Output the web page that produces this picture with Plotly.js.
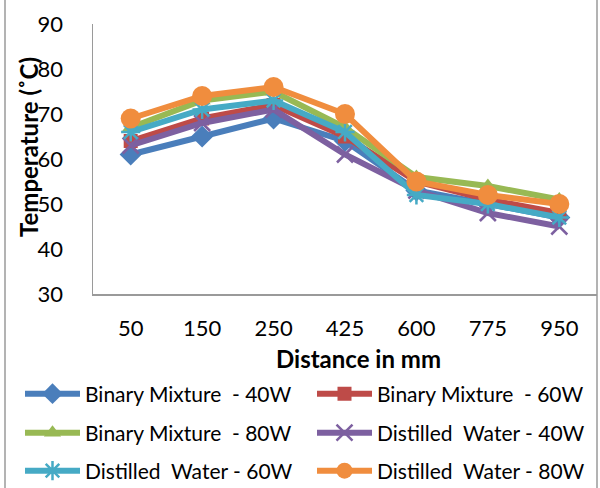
<!DOCTYPE html>
<html>
<head>
<meta charset="utf-8">
<script src="https://cdn.plot.ly/plotly-3.0.1.min.js"></script>
<style>
html,body{margin:0;padding:0;background:#fff;}
#chart{width:600px;height:488px;}
</style>
</head>
<body>
<div id="chart"></div>
<script>
var categories = ["50", "150", "250", "425", "600", "775", "950"];
var seriesNames = ["Binary Mixture  - 40W", "Binary Mixture  - 60W", "Binary Mixture  - 80W",
                   "Distilled  Water - 40W", "Distilled  Water - 60W", "Distilled  Water - 80W"];
var binary40 = [61, 65, 69, 64, 53, 50, 47];
var binary60 = [64, 69, 72, 65, 55, 51, 48];
var binary80 = [67, 73, 75, 67, 56, 54, 51];
var water40  = [63, 68, 71, 61, 53, 48, 45];
var water60  = [66, 71, 73, 66, 52, 50, 47];
var water80  = [69, 74, 76, 70, 55, 52, 50];
var xTitle = "Distance in mm";
var yTitle = "Temperature (˚C)";

var values = [binary40, binary60, binary80, water40, water60, water80];
var colors = ["#4A7EBB", "#BE4B48", "#98B954", "#7D60A0", "#46AAC5", "#F08D3E"];
var symbols = ["diamond", "square", "triangle-up", "x-thin-open", "asterisk-open", "circle"];
var sizes = [17, 14, 15, 16, 16, 20];
var legendIds = ["legend", "legend2", "legend3", "legend4", "legend5", "legend6"];

var traces = values.map(function(v, i){
  var open = (symbols[i].indexOf("open") >= 0);
  return {
    type: "scatter", mode: "lines+markers",
    x: categories, y: v, name: seriesNames[i], legend: legendIds[i],
    line: {color: colors[i], width: 6},
    marker: {symbol: symbols[i], size: sizes[i], color: colors[i],
             line: {color: colors[i], width: open ? 2.5 : 0}}
  };
});

// plot area: x 93..597 px, y 24..294 px
function px2x(px){ return (px - 93) / 504; }
function px2y(px){ return (294 - px) / 270; }
var legendCols = [20, 312];
var legendRows = [394, 433, 471];
function legendAt(i){
  return {
    orientation: "h", x: px2x(legendCols[i % 2]), xanchor: "left",
    y: px2y(legendRows[Math.floor(i / 2)]), yanchor: "middle",
    itemwidth: 55, font: {size: 21}, bgcolor: "rgba(0,0,0,0)"
  };
}

var font = "Lato, 'Open Sans', sans-serif";
var layout = {
  width: 600, height: 488,
  margin: {l: 93, r: 3, t: 24, b: 194, autoexpand: false},
  paper_bgcolor: "#fff", plot_bgcolor: "#fff",
  showlegend: true,
  font: {family: font, color: "#000", size: 22},
  xaxis: {
    type: "category", showgrid: false, zeroline: false,
    showline: true, linecolor: "#9a9a9a", linewidth: 1.5,
    ticks: "", tickfont: {size: 22}, ticklabelstandoff: 14
  },
  yaxis: {
    range: [30, 90], dtick: 10, showgrid: false, zeroline: false,
    showline: true, linecolor: "#9a9a9a", linewidth: 1.5,
    ticks: "", tickfont: {size: 22}, ticklabelstandoff: 24
  },
  annotations: [
    {text: "<b>" + xTitle + "</b>", xref: "paper", yref: "paper", x: px2x(358), y: px2y(358),
     xanchor: "center", yanchor: "middle", showarrow: false, font: {size: 24}},
    {text: "<b>" + yTitle + "</b>", xref: "paper", yref: "paper", x: px2x(28), y: px2y(147),
     xanchor: "center", yanchor: "middle", textangle: -90, showarrow: false, font: {size: 24}}
  ],
  shapes: [
    {type: "line", xref: "paper", yref: "paper", x0: px2x(5), x1: px2x(5), y0: px2y(488), y1: px2y(0),
     line: {color: "#9a9a9a", width: 1.5}},
    {type: "line", xref: "paper", yref: "paper", x0: 1.0, x1: 1.0, y0: px2y(488), y1: px2y(0),
     line: {color: "#9a9a9a", width: 1.5}}
  ]
};
legendIds.forEach(function(id, i){ layout[id] = legendAt(i); });

Plotly.newPlot("chart", traces, layout, {displayModeBar: false, staticPlot: true});
</script>
</body>
</html>
